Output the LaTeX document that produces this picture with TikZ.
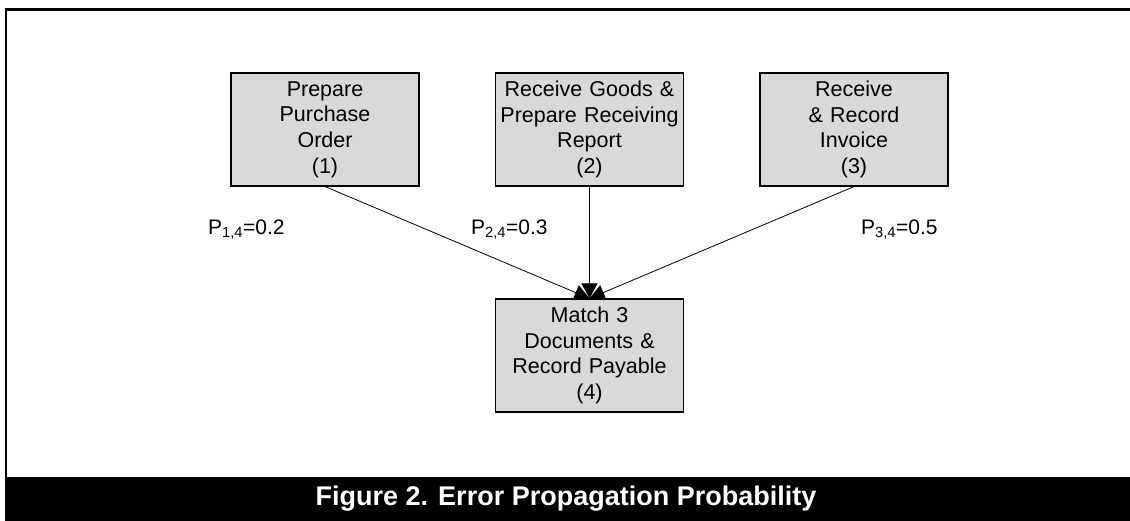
\documentclass[tikz,border=0pt]{standalone}
\usepackage{fontspec}
\setmainfont{Liberation Sans}
\usetikzlibrary{arrows.meta}
\definecolor{boxgray}{RGB}{217,217,217}
\tikzset{
  procbox/.style={draw=black, line width=1.1pt, fill=boxgray, minimum width=188pt, minimum height=113pt,
    inner sep=0pt, align=center, text width=186pt, font=\fontsize{21.5}{25.6}\selectfont},
  arr/.style={line width=0.8pt, -{Triangle[length=15pt,width=16pt]}},
  plabel/.style={anchor=west, inner sep=0pt, font=\fontsize{21}{24}\selectfont},
}
\begin{document}
\begin{tikzpicture}[x=1pt,y=-1pt]
\useasboundingbox (0,0) rectangle (1130,521);
% frame
\draw[line width=3pt] (4.5,10) -- (1130,10);
\draw[line width=2pt] (5.5,9) -- (5.5,478);
\fill[black] (4.5,477) rectangle (1130,521);
\node[font=\bfseries\fontsize{27}{30}\selectfont, text=white] (cap) at (566,499) {Figure 2. Error Propagation Probability};
% boxes
\node[procbox] (b1) at (325,129.5) {Prepare\\Purchase\\Order\\(1)};
\node[procbox] (b2) at (589.5,129.5) {Receive Goods \&\\Prepare Receiving\\Report\\(2)};
\node[procbox] (b3) at (854,129.5) {Receive\\\& Record\\Invoice\\(3)};
\node[procbox] (b4) at (589.5,355.5) {Match 3\\Documents \&\\Record Payable\\(4)};
% arrows
\draw[arr] (b1.south) -- (b4.north);
\draw[arr] (b3.south) -- (b4.north);
\draw[arr] (b2.south) -- (b4.north);
% labels
\node[plabel] (p1) at (208,230) {P\textsubscript{1,4}=0.2};
\node[plabel] (p2) at (471,230) {P\textsubscript{2,4}=0.3};
\node[plabel] (p3) at (861,230) {P\textsubscript{3,4}=0.5};
\end{tikzpicture}
\end{document}
